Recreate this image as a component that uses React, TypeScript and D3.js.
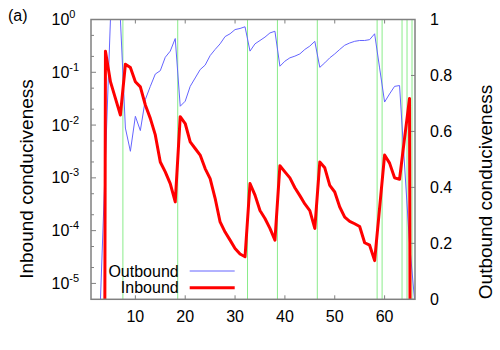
import { line, scaleLinear, scaleLog } from "d3";

// time steps and the two conduciveness series
const steps = [
  3, 4, 5, 6, 7, 8, 9, 10, 11, 12, 13, 14, 15, 16, 17, 18, 19, 20, 21, 22, 23, 24,
  25, 26, 27, 28, 29, 30, 31, 32, 33, 34, 35, 36, 37, 38, 39, 40, 41, 42, 43, 44,
  45, 46, 47, 48, 49, 50, 51, 52, 53, 54, 55, 56, 57, 58, 59, 60, 61, 62, 63, 64,
  65, 66,
];

const inbound = [
  1e-40, 0.25, 0.0665, 0.032, 0.0155, 0.142, 0.123, 0.066, 0.053, 0.024, 0.0134,
  0.0065, 0.002, 0.0013, 7.8e-4, 3.5e-4, 0.0144, 0.0107, 0.0048, 0.0036, 0.0027,
  0.0015, 9.7e-4, 4.1e-4, 1.46e-4, 9.4e-5, 6.6e-5, 4.6e-5, 3.6e-5, 3.2e-5, 7.8e-4,
  4.7e-4, 2.4e-4, 1.7e-4, 1.1e-4, 6.6e-5, 1.7e-3, 1.3e-3, 1.0e-3, 6.5e-4, 4.6e-4,
  3.2e-4, 2.4e-4, 1.1e-4, 2.0e-3, 1.55e-3, 7.2e-4, 5.4e-4, 2.8e-4, 1.8e-4, 1.5e-4,
  1.35e-4, 1.2e-4, 5.9e-5, 5.3e-5, 2.7e-5, 2.7e-4, 2.7e-3, 1.9e-3, 1.0e-3, 9.4e-4,
  5.6e-3, 0.032, 1e-40,
];

const outbound = [
  0, 0.5, 1.0, 1.0, 1.0, 0.612, 0.529, 0.654, 0.603, 0.714, 0.761, 0.805, 0.817,
  0.865, 0.887, 0.932, 0.69, 0.708, 0.761, 0.791, 0.821, 0.837, 0.871, 0.893, 0.913,
  0.939, 0.949, 0.964, 0.968, 0.974, 0.887, 0.913, 0.925, 0.937, 0.952, 0.958, 0.833,
  0.851, 0.863, 0.869, 0.877, 0.893, 0.905, 0.922, 0.829, 0.845, 0.863, 0.877, 0.893,
  0.908, 0.916, 0.922, 0.925, 0.925, 0.928, 0.949, 0.827, 0.705, 0.734, 0.761, 0.764,
  0.48, 0.2, 0,
];

// event markers (vertical lines)
const events = [7.5, 18.5, 32.5, 38.5, 46.5, 58.5, 59.5, 63.5, 64.5, 65.5];

const xTicks = [10, 20, 30, 40, 50, 60];
const yExponents = [0, -1, -2, -3, -4, -5];
const yMinor = [2, 5];
const y2Ticks = [0, 0.2, 0.4, 0.6, 0.8, 1];

const W = 500;
const H = 350;
const left = 91;
const right = 415;
const top = 19.5;
const bottom = 299.3;
const FONT = "'Liberation Sans', Arial, sans-serif";
const GRAY = "#808080";

export default function App() {
  const x = scaleLinear().domain([1.1, 66.1]).range([left, right]);
  const y = scaleLog().domain([5e-6, 1]).range([bottom, top]);
  const y2 = scaleLinear().domain([0, 1]).range([bottom, top]);

  const inLine = line<number>()
    .x((_, i) => x(steps[i]))
    .y((d) => y(d));
  const outLine = line<number>()
    .x((_, i) => x(steps[i]))
    .y((d) => y2(d));

  const minors: number[] = [];
  yExponents.forEach((e) => {
    yMinor.forEach((m) => {
      const v = m * Math.pow(10, e - 1);
      if (v >= 5e-6 && v <= 1) minors.push(v);
    });
  });

  return (
    <svg
      width={W}
      height={H}
      style={{ position: "absolute", left: 0, top: 0, background: "#fff" }}
      fontFamily={FONT}
    >
      <defs>
        <clipPath id="plot">
          <rect x={left} y={top} width={right - left} height={bottom - top} />
        </clipPath>
      </defs>

      <text x={8} y={21} fontSize={16}>(a)</text>

      <g clipPath="url(#plot)">
        {events.map((e) => (
          <line key={e} x1={x(e)} x2={x(e)} y1={top} y2={bottom} stroke="#8aec8a" strokeWidth={1} />
        ))}
        <path d={outLine(outbound) ?? ""} fill="none" stroke="#6464ff" strokeWidth={1} />
        <path d={inLine(inbound) ?? ""} fill="none" stroke="#ff0000" strokeWidth={3} strokeLinejoin="round" />
      </g>

      {/* legend */}
      <g fontSize={16}>
        <text x={178.7} y={271} dy="0.35em" textAnchor="end">Outbound</text>
        <line x1={189.7} x2={234.7} y1={271} y2={271} stroke="#6464ff" strokeWidth={1} />
        <text x={178.7} y={287.7} dy="0.35em" textAnchor="end">Inbound</text>
        <line x1={189.7} x2={234.7} y1={287.7} y2={287.7} stroke="#ff0000" strokeWidth={3} />
      </g>

      {/* ticks */}
      <g stroke={GRAY} strokeWidth={1}>
        {xTicks.map((t) => (
          <g key={t}>
            <line x1={x(t)} x2={x(t)} y1={bottom} y2={bottom - 4} />
            <line x1={x(t)} x2={x(t)} y1={top} y2={top + 4} />
          </g>
        ))}
        {yExponents.map((e) => (
          <line key={e} x1={left} x2={left + 5} y1={y(Math.pow(10, e))} y2={y(Math.pow(10, e))} />
        ))}
        {minors.map((v) => (
          <line key={v} x1={left} x2={left + 3} y1={y(v)} y2={y(v)} />
        ))}
        {y2Ticks.map((t) => (
          <line key={t} x1={right} x2={right - 4} y1={y2(t)} y2={y2(t)} />
        ))}
      </g>

      <rect
        x={left}
        y={top}
        width={right - left}
        height={bottom - top}
        fill="none"
        stroke={GRAY}
        strokeWidth={1.5}
      />

      {/* tick labels */}
      <g fontSize={16} fill="#000">
        {xTicks.map((t) => (
          <text key={t} x={x(t)} y={316.5} dy="0.35em" textAnchor="middle">{t}</text>
        ))}
        {yExponents.map((e) => (
          <text key={e} x={51.5} y={y(Math.pow(10, e))} dy="0.35em">
            10
            <tspan dy={-7} fontSize={11}>{e}</tspan>
          </text>
        ))}
        {y2Ticks.map((t) => (
          <text key={t} x={430} y={y2(t)} dy="0.35em">{t}</text>
        ))}
      </g>

      <text
        transform={`translate(33,179) rotate(-90)`}
        textAnchor="middle"
        fontSize={19}
      >
        Inbound conduciveness
      </text>
      <text
        transform={`translate(492,192) rotate(-90)`}
        textAnchor="middle"
        fontSize={19}
      >
        Outbound conduciveness
      </text>
    </svg>
  );
}
